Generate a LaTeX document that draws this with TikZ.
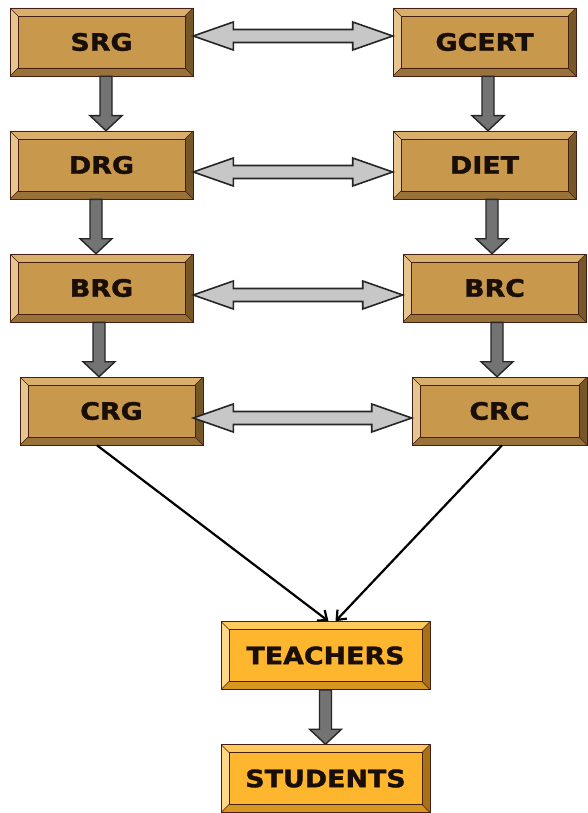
\documentclass[tikz,border=0pt]{standalone}
\usepackage{fontspec}
\usetikzlibrary{calc,arrows.meta}
\newfontfamily\boxfont{DejaVu Sans}[FakeStretch=1.12,FakeBold=1.4]

\definecolor{brownface}{RGB}{200,152,76}
\definecolor{browntop}{RGB}{216,176,108}
\definecolor{brownleft}{RGB}{230,198,142}
\definecolor{brownbottom}{RGB}{152,114,56}
\definecolor{brownright}{RGB}{118,88,40}
\definecolor{brownedge}{RGB}{70,30,20}
\definecolor{orangeface}{RGB}{254,182,46}
\definecolor{orangetop}{RGB}{255,202,92}
\definecolor{orangeleft}{RGB}{255,216,134}
\definecolor{orangebottom}{RGB}{214,150,32}
\definecolor{orangeright}{RGB}{168,114,20}
\definecolor{orangeedge}{RGB}{70,30,20}
\definecolor{boxtext}{RGB}{26,14,8}

\tikzset{
  bevelbox/.style={rectangle, draw=#1edge, line width=0.6pt, fill=#1face,
    minimum width=183pt, minimum height=68pt, inner sep=0pt,
    font=\boxfont\bfseries\fontsize{24}{28}\selectfont, text=boxtext,
    path picture={
      \coordinate (nw) at (path picture bounding box.north west);
      \coordinate (ne) at (path picture bounding box.north east);
      \coordinate (sw) at (path picture bounding box.south west);
      \coordinate (se) at (path picture bounding box.south east);
      \fill[#1top] (nw) -- (ne) -- ([shift={(-8pt,-8pt)}]ne) -- ([shift={(8pt,-8pt)}]nw) -- cycle;
      \fill[#1left] (nw) -- (sw) -- ([shift={(8pt,8pt)}]sw) -- ([shift={(8pt,-8pt)}]nw) -- cycle;
      \fill[#1bottom] (sw) -- (se) -- ([shift={(-8pt,8pt)}]se) -- ([shift={(8pt,8pt)}]sw) -- cycle;
      \fill[#1right] (ne) -- (se) -- ([shift={(-8pt,8pt)}]se) -- ([shift={(-8pt,-8pt)}]ne) -- cycle;
      \draw[#1edge, line width=0.4pt] (nw) -- ++(8pt,-8pt) (ne) -- ++(-8pt,-8pt)
        (sw) -- ++(8pt,8pt) (se) -- ++(-8pt,8pt);
      \draw[#1edge, line width=0.9pt] ([shift={(8pt,-8pt)}]nw) rectangle ([shift={(-8pt,8pt)}]se);
    }},
  hblockstyle/.style={fill=black!22, draw=black!85, line width=1.6pt, line join=miter},
  vblockstyle/.style={fill=black!55, draw=black!85, line width=1.4pt, line join=miter},
  feed/.style={line width=2.2pt, -{Straight Barb[length=8pt,width=13pt]}}
}

% grey two-headed block arrow between two points
\newcommand{\hblock}[2]{%
  \draw[hblockstyle] let \p1=#1, \p2=#2 in
    (\p1) -- ({\x1+40pt},{\y1+14pt}) -- ({\x1+40pt},{\y1+6.5pt})
    -- ({\x2-40pt},{\y1+6.5pt}) -- ({\x2-40pt},{\y1+14pt}) -- (\x2,\y1)
    -- ({\x2-40pt},{\y1-14pt}) -- ({\x2-40pt},{\y1-6.5pt})
    -- ({\x1+40pt},{\y1-6.5pt}) -- ({\x1+40pt},{\y1-14pt}) -- cycle;}
% dark downward block arrow
\newcommand{\vblock}[2]{%
  \draw[vblockstyle] let \p1=#1, \p2=#2 in
    ({\x1-6pt},\y1) -- ({\x1-6pt},{\y2+15pt}) -- ({\x1-16pt},{\y2+15pt})
    -- (\x1,\y2) -- ({\x1+16pt},{\y2+15pt}) -- ({\x1+6pt},{\y2+15pt})
    -- ({\x1+6pt},\y1) -- cycle;}

\begin{document}
\begin{tikzpicture}[x=1pt, y=-1pt]
  \useasboundingbox[fill=white] (0,0) rectangle (588,813);

  % left column
  \node[bevelbox=brown] (srg) at (101.5,42) {SRG};
  \node[bevelbox=brown] (drg) at (101.5,165) {DRG};
  \node[bevelbox=brown] (brg) at (101.5,288) {BRG};
  \node[bevelbox=brown] (crg) at (111.5,411) {CRG};
  % right column
  \node[bevelbox=brown] (gcert) at (484.5,42) {GCERT};
  \node[bevelbox=brown] (diet) at (484.5,165) {DIET};
  \node[bevelbox=brown] (brc) at (494.5,288) {BRC};
  \node[bevelbox=brown, minimum width=175pt] (crc) at (499.5,411) {CRC};
  % bottom
  \node[bevelbox=orange, minimum width=209pt] (teachers) at (325.5,655.5) {TEACHERS};
  \node[bevelbox=orange, minimum width=209pt] (students) at (325.5,778.5) {STUDENTS};

  \hblock{([yshift=6pt]srg.east)}{([yshift=6pt]gcert.west)}
  \hblock{([yshift=-7pt]drg.east)}{([yshift=-7pt]diet.west)}
  \hblock{([yshift=-7pt]brg.east)}{([yshift=-7pt]brc.west)}
  \hblock{([xshift=-10pt,yshift=-7pt]crg.east)}{([yshift=-7pt]crc.west)}

  \vblock{([xshift=4.5pt]srg.south)}{(drg.north)}
  \vblock{([xshift=-5.5pt]drg.south)}{(brg.north)}
  \vblock{([xshift=-2.5pt]brg.south)}{(crg.north)}
  \vblock{([xshift=3.5pt]gcert.south)}{(diet.north)}
  \vblock{([xshift=7.5pt]diet.south)}{(brc.north)}
  \vblock{([xshift=2.5pt]brc.south)}{(crc.north)}
  \vblock{(teachers.south)}{(students.north)}

  \draw[feed] ([xshift=-14.5pt]crg.south) -- ([xshift=3pt]teachers.north);
  \draw[feed] ([xshift=2.5pt]crc.south) -- ([xshift=10pt]teachers.north);
\end{tikzpicture}
\end{document}
